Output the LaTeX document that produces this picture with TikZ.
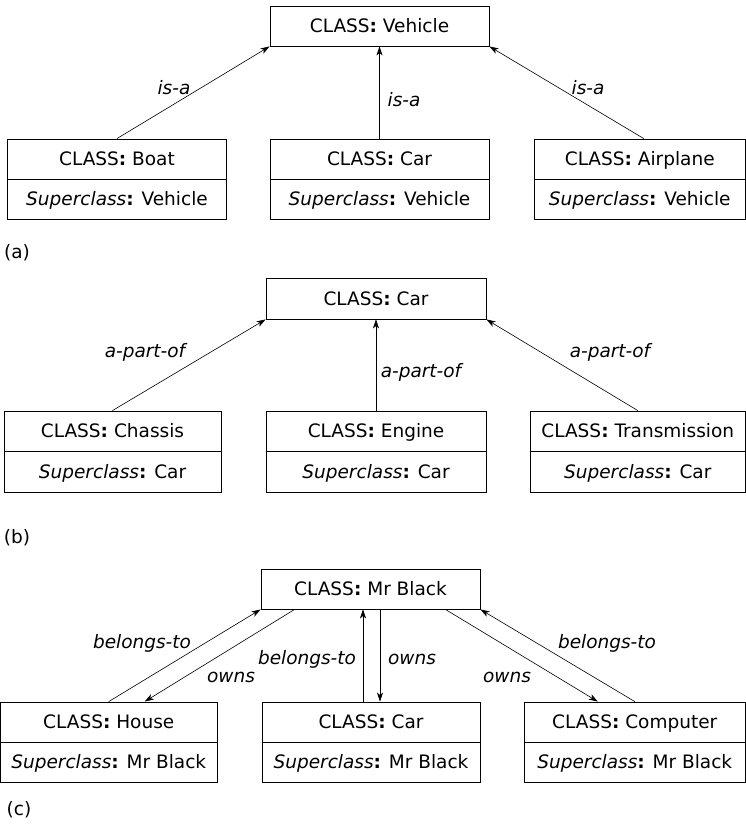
\documentclass[tikz,border=0pt]{standalone}
\usepackage{fontspec}
\setmainfont{DejaVu Sans}
\usetikzlibrary{arrows.meta,calc}
\begin{document}
\begin{tikzpicture}[x=1pt,y=-1pt,
  every node/.style={font=\fontsize{18.5}{22}\selectfont},
  topbox/.style={draw,line width=0.9pt,minimum width=219pt,minimum height=40pt,inner sep=0pt},
  lowbox/.style={draw,line width=0.9pt,minimum height=80pt,inner sep=0pt},
  txt/.style={text height=13.5pt,text depth=0pt,inner sep=0pt},
  lbl/.style={font=\fontsize{18.5}{22}\selectfont\itshape,inner sep=0pt},
  rel/.style={line width=0.6pt,-{Stealth[length=9pt,width=6pt,inset=2.5pt]}},
  divider/.style={line width=0.9pt}]
\useasboundingbox (0,0) rectangle (746,830);
\fill[white] (0,0) rectangle (746,830);

% ---------- (a) ----------
\node[topbox] (veh) at (379.5,26) {};
\node[txt] (vehT) at (veh.center) {CLASS\textbf{:} Vehicle};

\node[lowbox,minimum width=219pt] (boat) at (117,179) {};
\node[lowbox,minimum width=219pt] (cara) at (379.5,179) {};
\node[lowbox,minimum width=211.5pt] (plane) at (639.75,179) {};
\foreach \b/\n in {boat/Boat,cara/Car,plane/Airplane}{
  \draw[divider] (\b.west) -- (\b.east);
  \node[txt] (\b T) at ($(\b.center)+(0,-20)$) {CLASS\textbf{:} \n};
  \node[txt] (\b S) at ($(\b.center)+(0,20)$) {\textit{Superclass}\textbf{:} Vehicle};
}
\draw[rel] (boat.north) -- (veh.south west);
\draw[rel] (cara.north) -- (veh.south -| cara.north);
\draw[rel] ($(plane.north)+(4,0)$) -- (veh.south east);
\node[lbl] (la1) at (174,88) {is-a};
\node[lbl] (la2) at (404,100) {is-a};
\node[lbl] (la3) at (588,88) {is-a};
\node[inner sep=0pt] (pa) at (17,253) {(a)};

% ---------- (b) ----------
\node[topbox,minimum height=41pt,minimum width=220pt] (carb) at (376,298.5) {};
\node[txt] (carbT) at (carb.center) {CLASS\textbf{:} Car};

\node[lowbox,minimum width=217pt,minimum height=81pt] (chas) at (112.5,451.5) {};
\node[lowbox,minimum width=220pt,minimum height=81pt] (eng) at (376,451.5) {};
\node[lowbox,minimum width=215.5pt,minimum height=81pt] (trans) at (637.75,451.5) {};
\foreach \b/\n in {chas/Chassis,eng/Engine,trans/Transmission}{
  \draw[divider] (\b.west) -- (\b.east);
  \node[txt] (\b T) at ($(\b.center)+(0,-20.5)$) {CLASS\textbf{:} \n};
  \node[txt] (\b S) at ($(\b.center)+(0,20.5)$) {\textit{Superclass}\textbf{:} Car};
}
\draw[rel] (chas.north) -- (carb.south west);
\draw[rel] (eng.north) -- (carb.south);
\draw[rel] (trans.north) -- (carb.south east);
\node[lbl] (lb1) at (145,352) {a-part-of};
\node[lbl] (lb2) at (421,372) {a-part-of};
\node[lbl] (lb3) at (610,352) {a-part-of};
\node[inner sep=0pt] (pb) at (17,538) {(b)};

% ---------- (c) ----------
\node[topbox,minimum width=219pt] (mb) at (370.5,589) {};
\node[txt] (mbT) at (mb.center) {CLASS\textbf{:} Mr Black};

\node[lowbox,minimum width=216.5pt] (house) at (108.75,742) {};
\node[lowbox,minimum width=218pt] (carc) at (371,742) {};
\node[lowbox,minimum width=221.5pt] (comp) at (634.75,742) {};
\foreach \b/\n in {house/House,carc/Car,comp/Computer}{
  \draw[divider] (\b.west) -- (\b.east);
  \node[txt] (\b T) at ($(\b.center)+(0,-20)$) {CLASS\textbf{:} \n};
  \node[txt] (\b S) at ($(\b.center)+(0,20)$) {\textit{Superclass}\textbf{:} Mr Black};
}
\draw[rel] (house.north) -- (mb.south west);
\draw[rel] ($(mb.south west)+(34,0)$) -- ($(house.north)+(36,0)$);
\draw[rel] ($(carc.north)+(-8,0)$) -- ($(mb.south)+(-7.5,0)$);
\draw[rel] ($(mb.south)+(9.5,0)$) -- ($(carc.north)+(9,0)$);
\draw[rel] ($(mb.south east)+(-35,0)$) -- ($(comp.north)+(-37,0)$);
\draw[rel] (comp.north) -- (mb.south east);
\node[lbl] (lc1) at (142,643) {belongs-to};
\node[lbl] (lc2) at (231,677) {owns};
\node[lbl] (lc3) at (307,659) {belongs-to};
\node[lbl] (lc4) at (412,659) {owns};
\node[lbl] (lc5) at (507,677) {owns};
\node[lbl] (lc6) at (607,643) {belongs-to};
\node[inner sep=0pt] (pc) at (19,810) {(c)};
\end{tikzpicture}
\end{document}
